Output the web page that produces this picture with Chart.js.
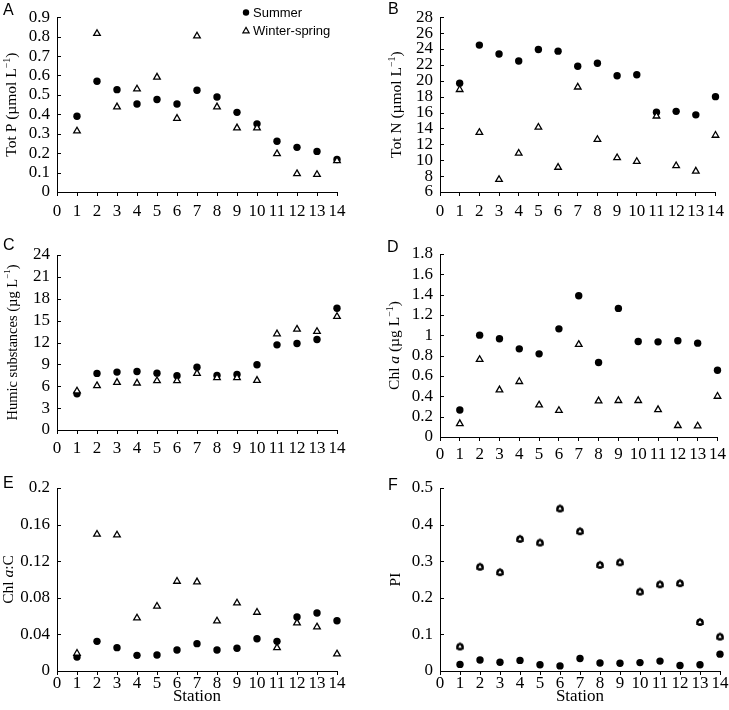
<!DOCTYPE html>
<html><head><meta charset="utf-8">
<script src="https://cdn.jsdelivr.net/npm/chart.js@4.4.0/dist/chart.umd.min.js"></script>
<style>
html,body{margin:0;padding:0;background:#fff;}
#wrap{position:relative;width:729px;height:710px;overflow:hidden;}
#wrap canvas{position:absolute;}
</style></head><body><div id="wrap"></div>
<script>
// ---------- DATA ----------
const stations = [1,2,3,4,5,6,7,8,9,10,11,12,13,14];
const seriesNames = ['Summer', 'Winter-spring'];

const totP_summer = [0.39,0.57,0.527,0.453,0.476,0.453,0.524,0.489,0.41,0.351,0.261,0.23,0.209,0.167];
const totP_winter = [0.314,0.816,0.438,0.53,0.591,0.379,0.803,0.438,0.33,0.33,0.197,0.094,0.09,0.161];

const totN_summer = [19.7,24.49,23.37,22.48,23.93,23.73,21.83,22.2,20.63,20.75,16.03,16.15,15.71,18.0];
const totN_winter = [18.89,13.49,7.57,10.87,14.14,9.1,19.2,12.6,10.31,9.83,15.55,9.3,8.62,13.13];

const humic_summer = [4.97,7.76,7.94,8.03,7.8,7.44,8.62,7.48,7.62,8.94,11.68,11.86,12.41,16.7];
const humic_winter = [5.34,6.07,6.52,6.43,6.75,6.75,7.76,7.16,7.16,6.8,13.18,13.82,13.5,15.56];

const chla_summer = [0.266,1.002,0.966,0.867,0.818,1.064,1.39,0.733,1.265,0.94,0.936,0.946,0.923,0.657];
const chla_winter = [0.131,0.762,0.463,0.545,0.315,0.26,0.91,0.355,0.358,0.358,0.269,0.112,0.108,0.4];

const chlaC_summer = [0.0153,0.0324,0.0255,0.0171,0.0175,0.023,0.0299,0.023,0.0248,0.0353,0.0324,0.059,0.0634,0.055];
const chlaC_winter = [0.0193,0.1494,0.1486,0.0579,0.0707,0.098,0.0973,0.0546,0.0743,0.0641,0.0255,0.0525,0.0481,0.0186];

const pi_summer = [0.018,0.030,0.024,0.029,0.017,0.014,0.034,0.022,0.021,0.023,0.027,0.015,0.017,0.046];
const pi_winter = [0.067,0.285,0.27,0.361,0.351,0.444,0.382,0.29,0.297,0.217,0.237,0.24,0.134,0.094];

// tick values
const xTicks = [0,1,2,3,4,5,6,7,8,9,10,11,12,13,14];
const totP_ticks = [0,0.1,0.2,0.3,0.4,0.5,0.6,0.7,0.8,0.9];
const totN_ticks = [6,8,10,12,14,16,18,20,22,24,26,28];
const humic_ticks = [0,3,6,9,12,15,18,21,24];
const chla_ticks = [0,0.2,0.4,0.6,0.8,1,1.2,1.4,1.6,1.8];
const chlaC_ticks = [0,0.04,0.08,0.12,0.16,0.2];
const pi_ticks = [0,0.1,0.2,0.3,0.4,0.5];

// ---------- STYLE / LAYOUT ----------
const SERIF = "'Liberation Serif','Times New Roman',serif";
const SANS = "'Liberation Sans',Arial,sans-serif";

function houseMarker(){
  const c = document.createElement('canvas');
  c.width = 12; c.height = 12;
  const g = c.getContext('2d');
  g.fillStyle = '#000';
  g.beginPath(); g.arc(6,6.3,3.8,0,Math.PI*2); g.fill();
  const r = 3.4;
  g.beginPath();
  for(let i=0;i<3;i++){
    const a = i*2*Math.PI/3;
    const px = 6+Math.sin(a)*r, py = 6.3-Math.cos(a)*r;
    if(i===0) g.moveTo(px,py); else g.lineTo(px,py);
  }
  g.closePath();
  g.fillStyle = '#fff'; g.fill();
  g.lineWidth = 1.3; g.strokeStyle = '#000'; g.stroke();
  return c;
}

const panels = [
  {letter:'A', left:0, top:0, w:360, h:235, area:[57,9,337,192], s:totP_summer, wi:totP_winter, yt:totP_ticks,
   title:[['Tot P (µmol L','n'],['−1','sup'],[')','n']], ts:15.5, tx:12, xPad:5, legend:true, lx:3, ly:15},
  {letter:'B', left:360, top:0, w:369, h:235, area:[80,10,360,192], s:totN_summer, wi:totN_winter, yt:totN_ticks,
   title:[['Tot N (µmol L','n'],['−1','sup'],[')','n']], ts:15.5, tx:37, xPad:5, lx:28, ly:14},
  {letter:'C', left:0, top:235, w:360, h:235, area:[57,20,337,195], s:humic_summer, wi:humic_winter, yt:humic_ticks,
   title:[['Humic substances (µg L','n'],['−1','sup'],[')','n']], ts:14.5, tx:13, xPad:4, lx:3, ly:15},
  {letter:'D', left:360, top:235, w:369, h:235, area:[80,19,360,202], s:chla_summer, wi:chla_winter, yt:chla_ticks,
   title:[['Chl ','n'],['a','i'],[' (µg L','n'],['−1','sup'],[')','n']], ts:15.5, tx:35, xPad:3, lx:27, ly:17},
  {letter:'E', left:0, top:470, w:360, h:240, area:[57,18,337,201], s:chlaC_summer, wi:chlaC_winter, yt:chlaC_ticks,
   title:[['Chl ','n'],['a','i'],[':C','n']], ts:15.5, tx:9, xPad:-2, station:true, lx:3, ly:18},
  {letter:'F', left:360, top:470, w:369, h:240, area:[80,18,360,201], s:pi_summer, wi:pi_winter, yt:pi_ticks,
   title:[['PI','n']], ts:15.5, tx:36, xPad:-2, station:true, lx:28, ly:20, house:true}
];

const fmt = v => String(parseFloat(Number(v).toFixed(4)));
const setTicks = arr => s => { s.ticks = arr.map(v=>({value:v})); };

const decoPlugin = {
  id:'deco',
  afterDraw(chart, args, o){
    const ctx = chart.ctx, a = chart.chartArea, y = chart.scales.y;
    ctx.save();
    ctx.strokeStyle = '#000'; ctx.lineWidth = 1;
    y.ticks.forEach(t=>{
      const py = Math.round(y.getPixelForValue(t.value))+0.5;
      ctx.beginPath(); ctx.moveTo(a.left, py); ctx.lineTo(a.left+4, py); ctx.stroke();
    });
    ctx.fillStyle = '#000';
    ctx.font = '16px ' + SANS;
    ctx.textBaseline = 'alphabetic'; ctx.textAlign = 'left';
    ctx.fillText(o.letter, o.lx, o.ly);
    const size = o.ts;
    const fontOf = st => st==='i' ? 'italic '+size+'px '+SERIF : st==='sup' ? Math.round(size*0.65)+'px '+SERIF : size+'px '+SERIF;
    let total = 0;
    o.title.forEach(([t,st])=>{ ctx.font = fontOf(st); total += ctx.measureText(t).width; });
    ctx.translate(o.tx, (a.top+a.bottom)/2);
    ctx.rotate(-Math.PI/2);
    ctx.textBaseline = 'middle';
    let xx = -total/2;
    o.title.forEach(([t,st])=>{
      ctx.font = fontOf(st);
      ctx.fillText(t, xx, st==='sup' ? -5 : 0);
      xx += ctx.measureText(t).width;
    });
    ctx.restore();
    if(o.legend){
      ctx.save();
      ctx.fillStyle = '#000'; ctx.strokeStyle = '#000';
      ctx.beginPath(); ctx.arc(246, 12.5, 3.2, 0, Math.PI*2); ctx.fill();
      const r = 3.6, cx = 246, cy = 31;
      ctx.lineWidth = 1.2;
      ctx.beginPath();
      for(let i=0;i<3;i++){
        const ang = i*2*Math.PI/3;
        const px = cx+Math.sin(ang)*r, py = cy-Math.cos(ang)*r;
        if(i===0) ctx.moveTo(px,py); else ctx.lineTo(px,py);
      }
      ctx.closePath(); ctx.stroke();
      ctx.font = '13px ' + SANS;
      ctx.textBaseline = 'middle'; ctx.textAlign = 'left';
      const ds = chart.data.datasets;
      ctx.fillText(ds[0].label, 253, 13);
      ctx.fillText(ds[1].label, 253, 31);
      ctx.restore();
    }
  }
};

const wrap = document.getElementById('wrap');
panels.forEach(p=>{
  const cv = document.createElement('canvas');
  cv.width = p.w; cv.height = p.h;
  cv.style.left = p.left+'px'; cv.style.top = p.top+'px';
  cv.style.width = p.w+'px'; cv.style.height = p.h+'px';
  wrap.appendChild(cv);
  const winterStyle = p.house ? houseMarker() : 'triangle';
  new Chart(cv.getContext('2d'), {
    type:'scatter',
    data:{datasets:[
      {label:seriesNames[0], data:stations.map((x,i)=>({x, y:p.s[i]})), order:1, clip:false,
       pointStyle:'circle', pointRadius:3.7, backgroundColor:'#000', borderColor:'#000', borderWidth:0},
      {label:seriesNames[1], data:stations.map((x,i)=>({x, y:p.wi[i]})), order:0, clip:false,
       pointStyle:winterStyle, pointRadius:3.8, backgroundColor:'#fff', borderColor:'#000', borderWidth:1.3}
    ]},
    options:{
      responsive:false, animation:false, devicePixelRatio:1,
      layout:{autoPadding:false, padding:{left:0, top:p.area[1], right:p.w-p.area[2], bottom:0}},
      plugins:{legend:{display:false}, tooltip:{enabled:false},
        deco:{letter:p.letter, lx:p.lx, ly:p.ly, title:p.title, ts:p.ts, tx:p.tx, legend:!!p.legend}},
      scales:{
        x:{type:'linear', min:xTicks[0], max:xTicks[xTicks.length-1],
           afterBuildTicks:setTicks(xTicks),
           ticks:{autoSkip:false, maxRotation:0, color:'#000', padding:p.xPad,
                  font:{family:SERIF, size:17}, callback:fmt},
           grid:{display:true, drawOnChartArea:false, drawTicks:true, tickLength:4, color:'#000', lineWidth:1},
           border:{display:true, color:'#000', width:1},
           title:{display:!!p.station, text:'Station', color:'#000', font:{family:SERIF, size:17}, padding:{top:0,bottom:3}},
           afterFit:s=>{ s.height = p.h - p.area[3]; }},
        y:{type:'linear', min:p.yt[0], max:p.yt[p.yt.length-1],
           afterBuildTicks:setTicks(p.yt),
           ticks:{autoSkip:false, color:'#000', padding:7, font:{family:SERIF, size:17}, callback:fmt},
           grid:{display:false, drawTicks:false},
           border:{display:true, color:'#000', width:1},
           afterFit:s=>{ s.width = p.area[0]; }}
      }
    },
    plugins:[decoPlugin]
  });
});
</script></body></html>
